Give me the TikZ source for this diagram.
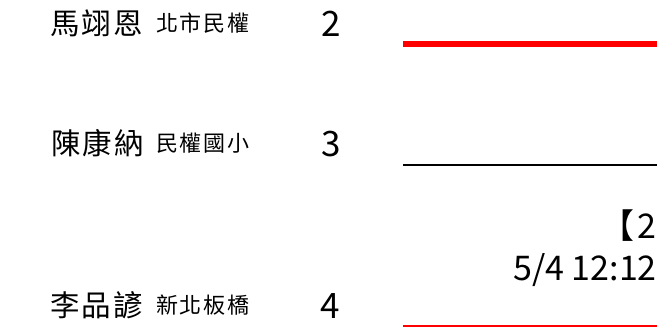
\documentclass[tikz,border=0pt]{standalone}
\usepackage{fontspec}
\setmainfont{Noto Sans CJK TC}
\newfontfamily\cjk{Noto Sans CJK TC}
\definecolor{lred}{RGB}{255,0,0}
\tikzset{
  playername/.style={anchor=base west, inner sep=0pt, font=\cjk\fontsize{29.5}{34}\selectfont},
  playerplace/.style={anchor=base west, inner sep=0pt, font=\cjk\fontsize{22}{25}\selectfont},
  seednum/.style={anchor=base west, inner sep=0pt, font=\cjk\fontsize{35}{40}\selectfont},
  matchinfo/.style={anchor=base east, inner sep=0pt, font=\cjk\fontsize{34}{40}\selectfont},
}
\begin{document}
\begin{tikzpicture}[x=1pt,y=-1pt]
\useasboundingbox (0,0) rectangle (657,327);
% row 1
\node[playername] (n1) at (50,34) {馬\hspace{2pt}翊\hspace{2pt}恩};
\node[playerplace] (p1) at (156,31) {北\hspace{1.8pt}市\hspace{1.8pt}民\hspace{1.8pt}權};
\node[seednum] (s1) at (321.5,36) {2};
% row 2
\node[playername] (n2) at (51,154) {陳\hspace{2pt}康\hspace{2pt}納};
\node[playerplace] (p2) at (156,151) {民\hspace{1.8pt}權\hspace{1.8pt}國\hspace{1.8pt}小};
\node[seednum] (s2) at (321.5,156) {3};
% row 3
\node[playername] (n3) at (50,316) {李\hspace{2pt}品\hspace{2pt}諺};
\node[playerplace] (p3) at (156,313) {新\hspace{1.8pt}北\hspace{1.8pt}板\hspace{1.8pt}橋};
\node[seednum] (s3) at (320.5,318) {4};
% bracket lines
\coordinate (a1) at (403,43.7);
\coordinate (b1) at (657,43.7);
\draw[lred, line width=6pt] (a1) -- (b1);
\coordinate (a2) at (403,165);
\coordinate (b2) at (657,165);
\draw[black, line width=2.7pt] (a2) -- (b2);
\coordinate (a3) at (403,326);
\coordinate (b3) at (657,326);
\draw[lred, line width=2.5pt] (a3) -- (b3);
% match info at the right edge
\node[matchinfo] (m1) at (657,238) {【\hspace{3pt}2};
\node[matchinfo] (m2) at (657,280) {5/4 12:12};
\end{tikzpicture}
\end{document}
